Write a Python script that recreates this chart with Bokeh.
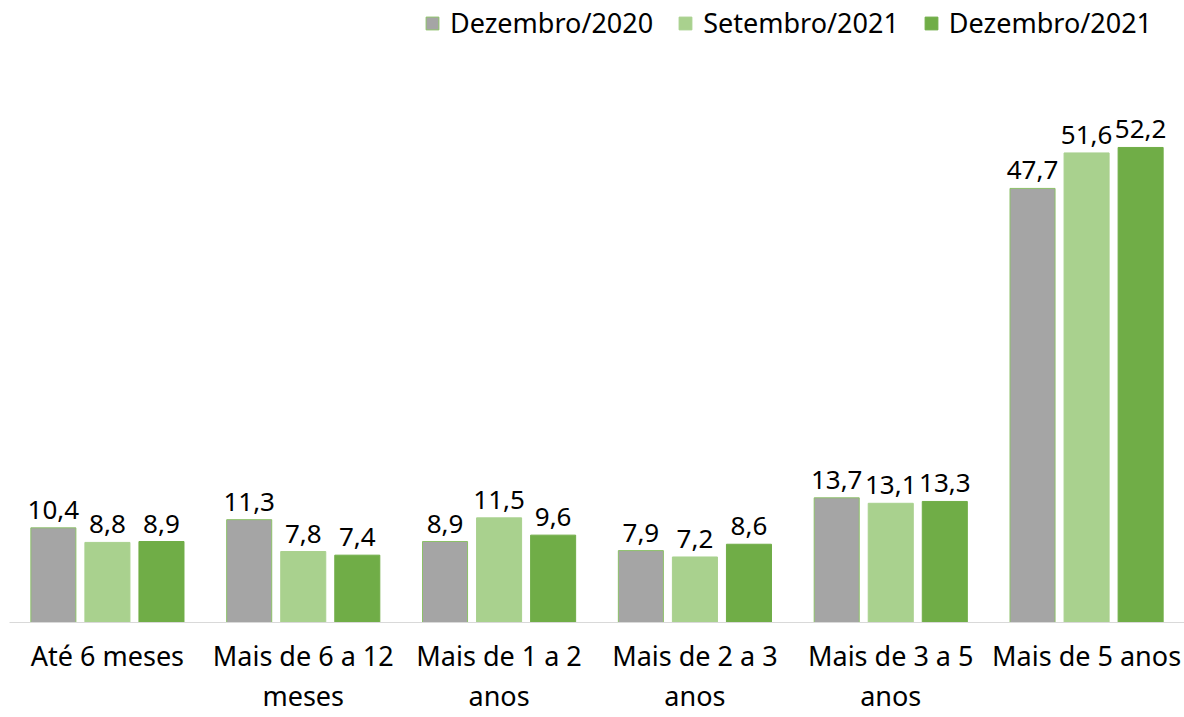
from bokeh.plotting import figure
from bokeh.models import ColumnDataSource, FactorRange, Legend, LegendItem, Range1d
from bokeh.transform import dodge
from bokeh.core.properties import value
from bokeh.embed import file_html
from bokeh.resources import INLINE

categories = ["Até 6 meses", "Mais de 6 a 12\nmeses", "Mais de 1 a 2\nanos",
              "Mais de 2 a 3\nanos", "Mais de 3 a 5\nanos", "Mais de 5 anos"]
series = ["Dezembro/2020", "Setembro/2021", "Dezembro/2021"]
dez2020 = [10.4, 11.3, 8.9, 7.9, 13.7, 47.7]
set2021 = [8.8, 7.8, 11.5, 7.2, 13.1, 51.6]
dez2021 = [8.9, 7.4, 9.6, 8.6, 13.3, 52.2]
colors = ["#A5A5A5", "#A9D18E", "#70AD47"]
outlines = ["#8CC068", "#A9D18E", "#70AD47"]

def fmt(v):
    return f"{v:.1f}".replace(".", ",")

data = {"cat": categories}
for name, vals in zip(["s0", "s1", "s2"], [dez2020, set2021, dez2021]):
    data[name] = vals
    data[name + "_lbl"] = [fmt(v) for v in vals]
src = ColumnDataSource(data)

FONT = "Noto Sans"
p = figure(x_range=FactorRange(*categories), y_range=Range1d(0, 68.35),
           width=1184, height=717, output_backend="svg", toolbar_location=None,
           min_border_left=9, min_border_right=0, min_border_top=0, min_border_bottom=0)
p.outline_line_color = None
p.background_fill_color = "white"

offsets = [-0.276, 0.0, 0.276]
items = []
for i, key in enumerate(["s0", "s1", "s2"]):
    r = p.vbar(x=dodge("cat", offsets[i], range=p.x_range), top=key, width=0.23,
               source=src, fill_color=colors[i], line_color=outlines[i], line_width=1)
    p.text(x=dodge("cat", offsets[i], range=p.x_range), y=key, text=key + "_lbl",
           source=src, text_align="center", text_baseline="bottom", y_offset=-9,
           text_font=value(FONT), text_font_size="26px", text_color="#000000")
    items.append(LegendItem(label=series[i], renderers=[r]))

legend = Legend(items=items, orientation="horizontal",
                label_text_font=FONT, label_text_font_size="27px", label_text_color="#000000",
                glyph_width=16, glyph_height=16, label_standoff=10, spacing=24,
                border_line_color=None, background_fill_alpha=0, margin=0, padding=0)
legend.location = (415, 581)
p.add_layout(legend)

p.yaxis.visible = False
p.xgrid.grid_line_color = None
p.ygrid.grid_line_color = None
p.xaxis.axis_line_color = "#D9D9D9"
p.xaxis.axis_line_width = 1
p.xaxis.major_tick_line_color = None
p.xaxis.minor_tick_line_color = None
p.xaxis.major_label_text_font = FONT
p.xaxis.major_label_text_font_size = "27px"
p.xaxis.major_label_text_color = "#000000"
p.xaxis.major_label_text_line_height = 1.1
p.xaxis.major_label_standoff = 8
p.x_range.range_padding = 0
p.x_range.group_padding = 0

open("out.html", "w").write(file_html(p, INLINE))
